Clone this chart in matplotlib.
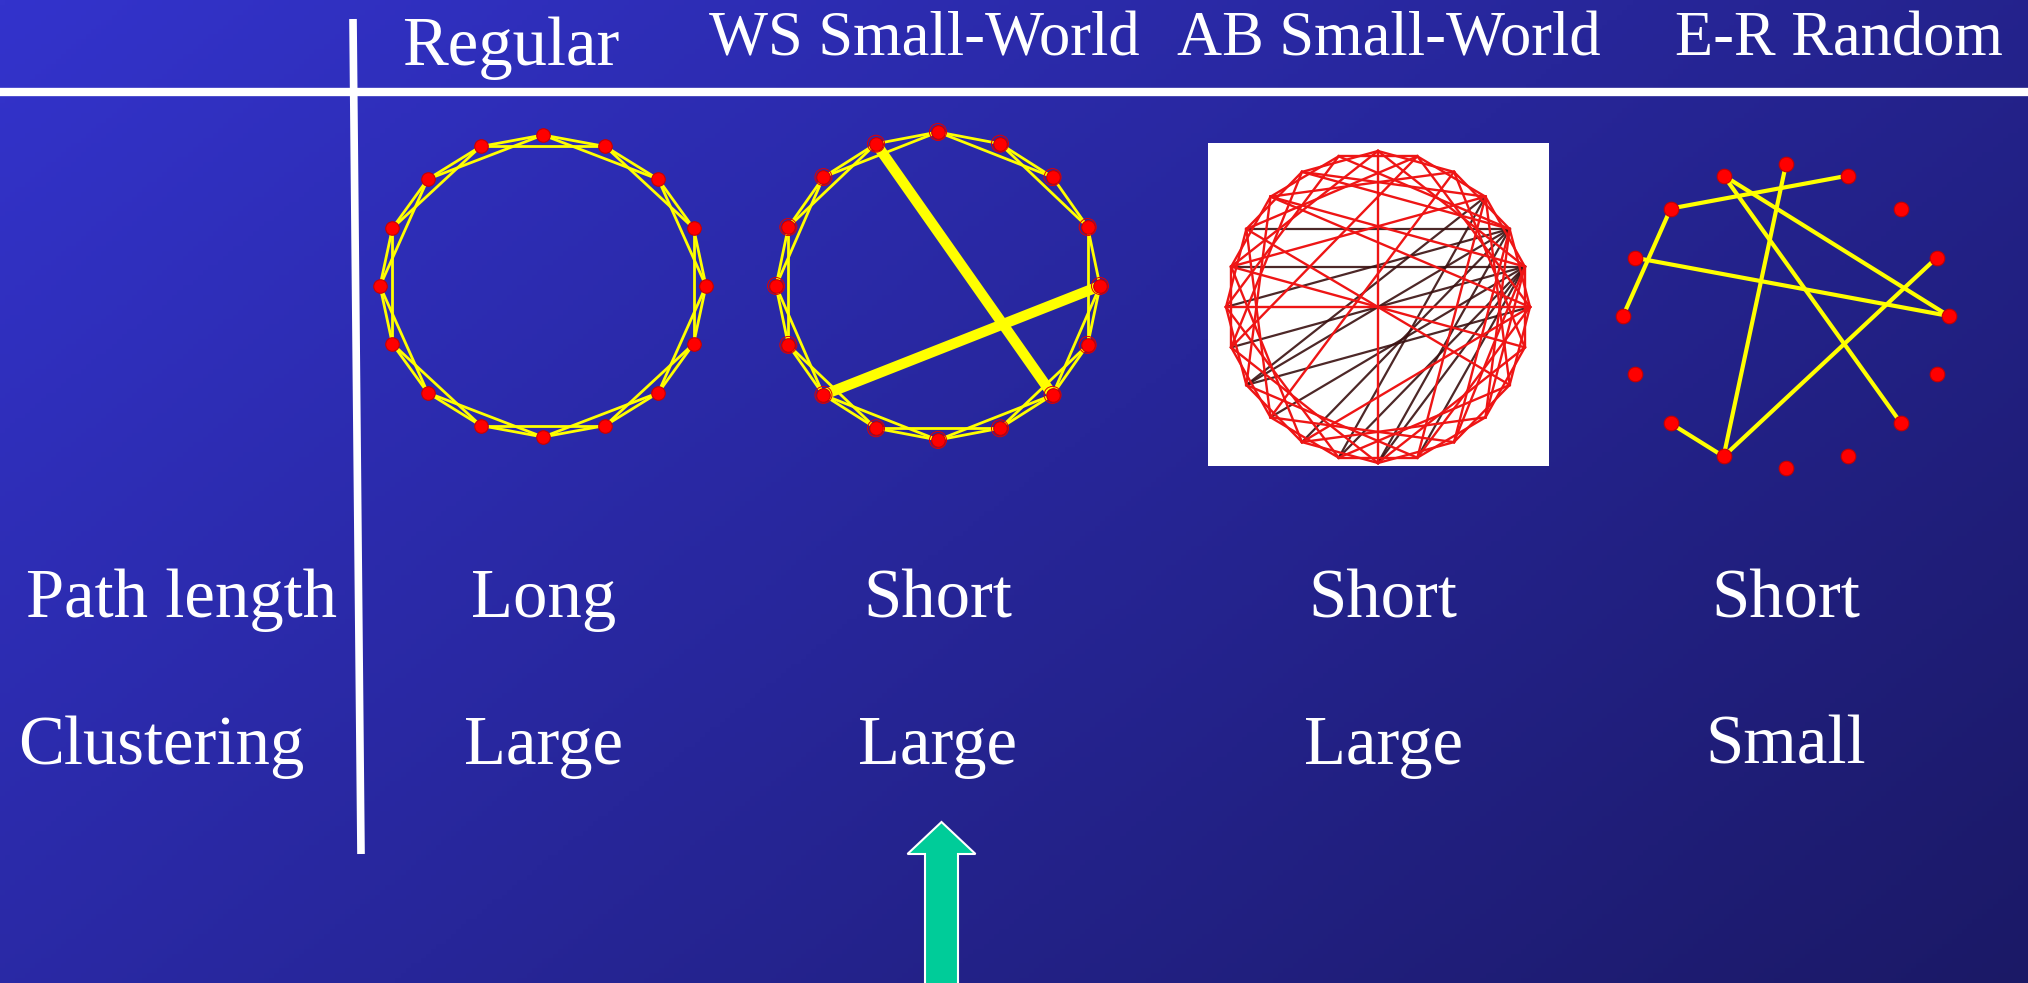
import numpy as np
import matplotlib
matplotlib.use("Agg")
import matplotlib.pyplot as plt
from matplotlib.patches import Rectangle, FancyArrow

# table text
headers = ["Regular", "WS Small-World", "AB Small-World", "E-R Random"]
row_labels = ["Path length", "Clustering"]
path_length = ["Long", "Short", "Short", "Short"]
clustering = ["Large", "Large", "Large", "Small"]

# ring lattice, 16 nodes, each node linked to its 2 nearest neighbours on each side
n_ring = 16
regular_edges = [(0, 1), (1, 2), (2, 3), (3, 4), (4, 5), (5, 6), (6, 7), (7, 8),
                 (8, 9), (9, 10), (10, 11), (11, 12), (12, 13), (13, 14), (14, 15), (15, 0),
                 (0, 2), (1, 3), (2, 4), (3, 5), (4, 6), (5, 7), (6, 8), (7, 9),
                 (8, 10), (9, 11), (10, 12), (11, 13), (12, 14), (13, 15), (14, 0), (15, 1)]
# Watts-Strogatz: two lattice edges rewired into long shortcuts
ws_removed = [(15, 1), (2, 4)]
ws_shortcuts = [(15, 6), (4, 10)]
# Erdos-Renyi random graph on 16 nodes
er_edges = [(1, 14), (14, 12), (13, 4), (15, 4), (15, 6), (0, 9), (3, 9), (10, 9)]

# AB small-world picture, 24 nodes
n_ab = 24
ab_red = [(0, 2), (1, 3), (2, 4), (3, 5), (4, 6), (5, 7), (6, 8), (7, 9), (8, 10), (9, 11),
          (10, 12), (11, 13), (12, 14), (13, 15), (14, 16), (15, 17), (16, 18), (17, 19),
          (18, 20), (19, 21), (20, 22), (21, 23), (22, 0), (23, 1),
          (0, 5), (1, 6), (2, 7), (3, 8), (4, 9), (5, 10), (6, 11), (7, 12), (8, 13), (9, 14),
          (10, 15), (11, 16), (12, 17), (13, 18), (14, 19), (15, 20), (16, 21), (17, 22),
          (18, 23), (19, 0), (20, 1), (21, 2), (22, 3), (23, 4),
          (4, 10), (5, 21), (4, 22), (5, 9), (3, 11), (6, 14), (6, 18), (0, 12),
          (2, 15), (7, 19), (8, 20), (1, 17), (3, 19), (6, 21)]
ab_black = [(5, 11), (5, 13), (5, 15), (5, 17), (5, 19), (4, 12), (4, 14), (4, 16),
            (4, 18), (4, 20), (3, 13), (6, 16), (3, 16), (5, 12)]

W, H = 2028, 983
BG0 = np.array([51, 51, 204]) / 255
BG1 = np.array([27, 25, 102]) / 255
YELLOW = "#FFFF00"
RED = "#FF0000"
SERIF = ["Liberation Serif", "DejaVu Serif"]


def ring(cx, cy, rx, ry, n):
    ang = np.deg2rad(90 - np.arange(n) * 360.0 / n)
    return cx + rx * np.cos(ang), cy - ry * np.sin(ang)


def draw_edges(ax, xs, ys, edges, **kw):
    for a, b in edges:
        ax.plot([xs[a], xs[b]], [ys[a], ys[b]], **kw)


def main():
    fig = plt.figure(figsize=(W / 100, H / 100), dpi=100)
    ax = fig.add_axes([0, 0, 1, 1])
    ax.set_xlim(0, W)
    ax.set_ylim(H, 0)
    ax.axis("off")

    # diagonal gradient background
    gx, gy = np.meshgrid(np.linspace(0, 1, 400), np.linspace(0, 1, 200))
    t = (0.62 * gx + 0.38 * gy)[..., None]
    ax.imshow(BG0 + (BG1 - BG0) * t, extent=[0, W, H, 0], aspect="auto", zorder=0)

    # table rules
    ax.plot([0, W], [92, 92], color="white", lw=6, zorder=2, solid_capstyle="butt")
    ax.plot([353, 361], [19, 854], color="white", lw=5.5, zorder=2, solid_capstyle="butt")

    # headers
    hx = [511, 924, 1389, 1839]
    hy = [65, 55, 55, 55]
    hs = [49.5, 45, 45, 45]
    for s, x, y, fs in zip(headers, hx, hy, hs):
        ax.text(x, y, s, ha="center", va="baseline", color="white",
                fontsize=fs, family=SERIF, zorder=3)

    # rows
    ax.text(181, 617, row_labels[0], ha="center", va="baseline", color="white",
            fontsize=49.5, family=SERIF)
    ax.text(161, 764, row_labels[1], ha="center", va="baseline", color="white",
            fontsize=49.5, family=SERIF)
    vx = [544, 938, 1383, 1786]
    for x, p, c in zip(vx, path_length, clustering):
        ax.text(x, 617, p, ha="center", va="baseline", color="white",
                fontsize=49.5, family=SERIF)
        ax.text(x, 764, c, ha="center", va="baseline", color="white",
                fontsize=49.5, family=SERIF)

    # regular ring lattice
    xs, ys = ring(543, 286, 163, 151, n_ring)
    draw_edges(ax, xs, ys, regular_edges, color=YELLOW, lw=2.0, zorder=3)
    ax.scatter(xs, ys, s=95, c=RED, edgecolors="#C80000", linewidths=0.8, zorder=4)

    # WS small world
    xs, ys = ring(938, 286, 162, 154, n_ring)
    ws_edges = [e for e in regular_edges if e not in ws_removed]
    draw_edges(ax, xs, ys, ws_edges, color=YELLOW, lw=2.0, zorder=3)
    draw_edges(ax, xs, ys, ws_shortcuts, color=YELLOW, lw=7.5, zorder=3,
               solid_capstyle="butt")
    ax.scatter(xs, ys, s=150, facecolors="none", edgecolors="#E00000",
               linewidths=0.7, zorder=4)
    ax.scatter(xs, ys, s=95, c=RED, edgecolors="#C80000", linewidths=0.8, zorder=4)

    # AB small world picture on white card
    ax.add_patch(Rectangle((1208, 143), 341, 323, facecolor="white",
                           edgecolor="none", zorder=2))
    xs, ys = ring(1378, 307, 152, 156, n_ab)
    draw_edges(ax, xs, ys, ab_black, color="#3a1010", lw=1.6, alpha=0.9, zorder=3)
    draw_edges(ax, xs, ys, ab_red, color="#EE1515", lw=1.7, zorder=3)

    # E-R random
    xs, ys = ring(1786, 316, 163, 152, n_ring)
    draw_edges(ax, xs, ys, er_edges, color=YELLOW, lw=3.0, zorder=3)
    ax.scatter(xs, ys, s=110, c=RED, edgecolors="#C80000", linewidths=0.8, zorder=4)

    # arrow under the WS column
    ax.add_patch(FancyArrow(941.5, 1000, 0, -178, width=33, head_width=68,
                            head_length=32, length_includes_head=True,
                            facecolor="#00CC99", edgecolor="white", lw=1.5, zorder=3))

    fig.savefig("out.png", dpi=100)


if __name__ == "__main__":
    main()
